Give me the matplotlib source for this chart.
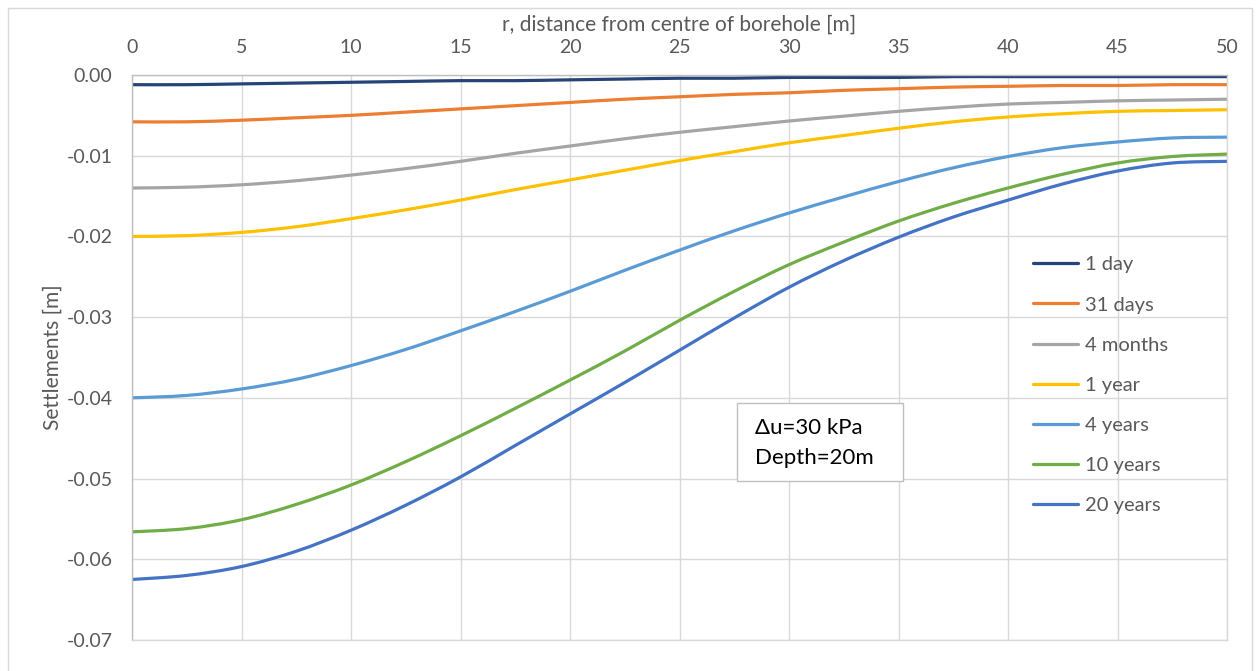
import matplotlib
matplotlib.use("Agg")
import matplotlib.pyplot as plt
from matplotlib.patches import Rectangle, PathPatch
from matplotlib.path import Path

plt.rcParams['font.family'] = ['Lato', 'DejaVu Sans']

r = [0, 2.5, 5, 7.5, 10, 12.5, 15, 17.5, 20, 22.5, 25, 27.5, 30, 32.5, 35, 37.5, 40, 42.5, 45, 47.5, 50]

s_1day = [-0.0012, -0.0012, -0.0011, -0.0010, -0.0009, -0.0008, -0.0007, -0.0007, -0.0006, -0.0005, -0.0004,
          -0.0004, -0.0003, -0.0003, -0.0003, -0.0002, -0.0002, -0.0002, -0.0002, -0.0002, -0.0002]
s_31days = [-0.0058, -0.0058, -0.0056, -0.0053, -0.0050, -0.0046, -0.0042, -0.0038, -0.0034, -0.0030, -0.0027,
            -0.0024, -0.0022, -0.0019, -0.0017, -0.0015, -0.0014, -0.0013, -0.0013, -0.0012, -0.0012]
s_4months = [-0.0140, -0.0139, -0.0136, -0.0131, -0.0124, -0.0116, -0.0107, -0.0097, -0.0088, -0.0079, -0.0071,
             -0.0064, -0.0057, -0.0051, -0.0045, -0.0040, -0.0036, -0.0034, -0.0032, -0.0031, -0.0030]
s_1year = [-0.0200, -0.0199, -0.0195, -0.0188, -0.0178, -0.0167, -0.0155, -0.0142, -0.0130, -0.0118, -0.0106,
           -0.0095, -0.0084, -0.0075, -0.0066, -0.0058, -0.0052, -0.0048, -0.0045, -0.0044, -0.0043]
s_4years = [-0.0400, -0.0397, -0.0389, -0.0377, -0.0360, -0.0340, -0.0317, -0.0293, -0.0268, -0.0242, -0.0217,
            -0.0193, -0.0171, -0.0151, -0.0132, -0.0115, -0.0101, -0.0090, -0.0083, -0.0078, -0.0077]
s_10years = [-0.0566, -0.0562, -0.0551, -0.0532, -0.0508, -0.0479, -0.0447, -0.0413, -0.0378, -0.0342, -0.0304,
             -0.0268, -0.0235, -0.0207, -0.0181, -0.0159, -0.0140, -0.0123, -0.0109, -0.0101, -0.0098]
s_20years = [-0.0625, -0.0620, -0.0609, -0.0590, -0.0564, -0.0533, -0.0498, -0.0459, -0.0420, -0.0381, -0.0341,
             -0.0301, -0.0263, -0.0230, -0.0201, -0.0176, -0.0155, -0.0135, -0.0119, -0.0109, -0.0107]

labels = ['1 day', '31 days', '4 months', '1 year', '4 years', '10 years', '20 years']
series = [s_1day, s_31days, s_4months, s_1year, s_4years, s_10years, s_20years]
colors = ['#264478', '#ED7D31', '#A5A5A5', '#FFC000', '#5B9BD5', '#70AD47', '#4472C4']

x_ticks = [0, 5, 10, 15, 20, 25, 30, 35, 40, 45, 50]
y_ticks = [0.0, -0.01, -0.02, -0.03, -0.04, -0.05, -0.06, -0.07]

grey = '#D9D9D9'
txt = '#595959'


def smooth_path(x, y):
    # bezier through the points, like excel's "smoothed line"
    verts = [(x[0], y[0])]
    codes = [Path.MOVETO]
    n = len(x)
    for i in range(n - 1):
        x0, y0 = (x[i - 1], y[i - 1]) if i > 0 else (x[i], y[i])
        x3, y3 = (x[i + 2], y[i + 2]) if i + 2 < n else (x[i + 1], y[i + 1])
        c1 = (x[i] + (x[i + 1] - x0) / 6, y[i] + (y[i + 1] - y0) / 6)
        c2 = (x[i + 1] - (x3 - x[i]) / 6, y[i + 1] - (y3 - y[i]) / 6)
        verts += [c1, c2, (x[i + 1], y[i + 1])]
        codes += [Path.CURVE4] * 3
    return Path(verts, codes)


fig = plt.figure(figsize=(12.6, 6.71), dpi=100)
ax = fig.add_axes([132/1260, 1 - 640/671, (1227-132)/1260, (640-75)/671])

# outer chart frame
fig.patches.append(Rectangle((8/1260, -0.1), 1244/1260, 1.1 - 8/671, transform=fig.transFigure,
                             fill=False, edgecolor=grey, linewidth=1.0))

for s, lab, c in zip(series, labels, colors):
    ax.add_patch(PathPatch(smooth_path(r, s), facecolor='none', edgecolor=c, linewidth=2.3,
                           capstyle='round', joinstyle='round'))
    ax.plot([], [], color=c, linewidth=2.3, label=lab, solid_capstyle='round')

ax.set_xlim(0, 50)
ax.set_ylim(-0.07, 0)
ax.set_xticks(x_ticks)
ax.set_yticks(y_ticks)
ax.set_yticklabels(['%.2f' % v for v in y_ticks])
ax.xaxis.tick_top()
ax.xaxis.set_label_position('top')
ax.tick_params(length=0, labelsize=14, labelcolor=txt)
ax.tick_params(axis='x', pad=14)
ax.tick_params(axis='y', pad=14)
ax.grid(True, color=grey, linewidth=1.0)
ax.set_axisbelow(True)
for sp in ax.spines.values():
    sp.set_color(grey)
    sp.set_linewidth(1.0)
ax.spines['left'].set_color('#BFBFBF')
ax.spines['top'].set_color('#BFBFBF')

ax.set_xlabel('r, distance from centre of borehole [m]', fontsize=15, color=txt, labelpad=6)
ax.set_ylabel('Settlements [m]', fontsize=15, color=txt, labelpad=3)

leg = ax.legend(loc='upper left', bbox_to_anchor=(0.823, 0.679), frameon=False, fontsize=14.5,
                handlelength=2.25, handletextpad=0.3, labelspacing=1.14, borderaxespad=0, borderpad=0)
for t in leg.get_texts():
    t.set_color(txt)

ax.add_patch(Rectangle((0.5525, 0.2814), 0.1516, 0.138, transform=ax.transAxes,
                       facecolor='white', edgecolor='#BFBFBF', linewidth=1.0, zorder=5))
ax.text(0.569, 0.3752, '\u0394u=30 kPa', transform=ax.transAxes, fontsize=16, color='black',
        va='center', ha='left', zorder=6)
ax.text(0.569, 0.3221, 'Depth=20m', transform=ax.transAxes, fontsize=16, color='black',
        va='center', ha='left', zorder=6)

fig.savefig('out.png', dpi=100)
